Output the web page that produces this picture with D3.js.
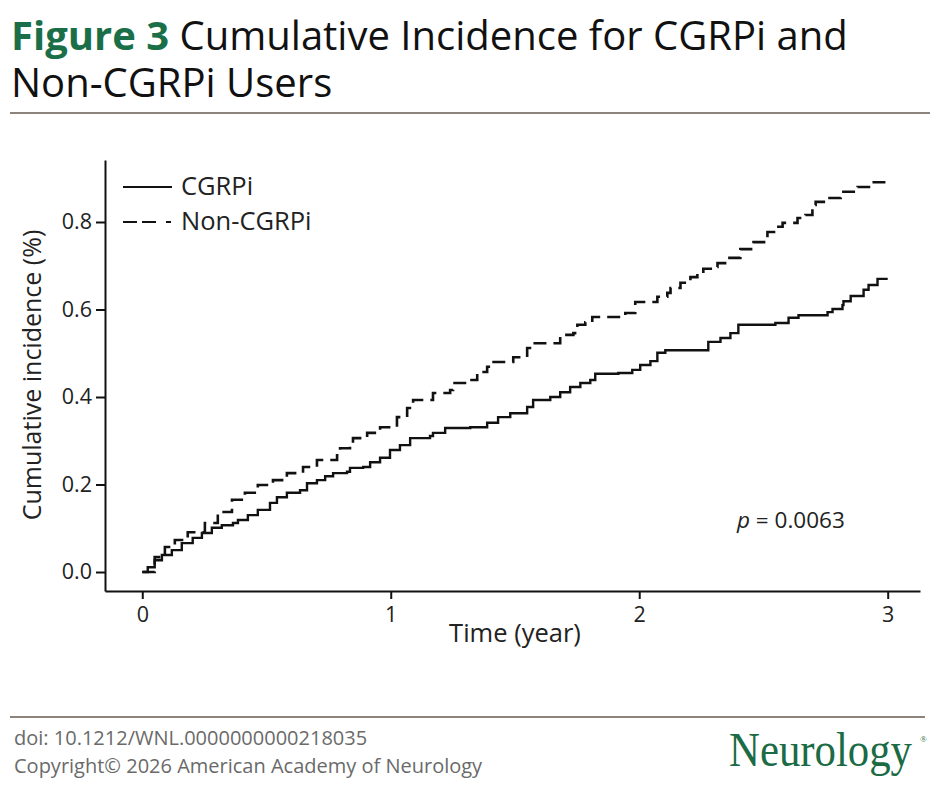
<!DOCTYPE html>
<html>
<head>
<meta charset="utf-8">
<title>Figure 3</title>
<script src="https://cdn.jsdelivr.net/npm/d3@7"></script>
<style>
  body { margin: 0; background: #fff; }
  svg text { font-family: "Open Sans", "Noto Sans", sans-serif; }
</style>
</head>
<body>
<script>
// step points: [time (year), cumulative incidence]
var cgrpi = [
  [0, 0], [0.022, 0.011], [0.050, 0.027], [0.079, 0.039], [0.119, 0.050], [0.159, 0.066],
  [0.203, 0.078], [0.240, 0.089], [0.280, 0.101], [0.320, 0.107], [0.365, 0.112], [0.385, 0.119],
  [0.425, 0.130], [0.465, 0.142], [0.514, 0.158], [0.542, 0.171], [0.582, 0.181], [0.635, 0.187],
  [0.663, 0.203], [0.703, 0.210], [0.736, 0.219], [0.768, 0.226], [0.824, 0.229], [0.836, 0.238],
  [0.889, 0.240], [0.917, 0.251], [0.957, 0.261], [0.997, 0.279], [1.037, 0.290], [1.078, 0.306],
  [1.158, 0.311], [1.170, 0.318], [1.219, 0.329], [1.320, 0.331], [1.388, 0.341], [1.432, 0.354],
  [1.481, 0.363], [1.549, 0.377], [1.573, 0.393], [1.642, 0.400], [1.682, 0.411], [1.722, 0.423],
  [1.763, 0.432], [1.803, 0.439], [1.823, 0.453], [1.916, 0.455], [1.972, 0.462], [2.004, 0.473],
  [2.045, 0.482], [2.073, 0.501], [2.105, 0.507], [2.278, 0.526], [2.327, 0.535], [2.367, 0.546],
  [2.399, 0.565], [2.548, 0.569], [2.601, 0.581], [2.641, 0.587], [2.758, 0.594], [2.778, 0.601],
  [2.818, 0.610], [2.822, 0.619], [2.851, 0.631], [2.903, 0.645], [2.923, 0.656], [2.959, 0.670],
  [3.0, 0.670]
];
var nonCgrpi = [
  [0, 0], [0.050, 0.034], [0.091, 0.057], [0.131, 0.073], [0.183, 0.091], [0.252, 0.112],
  [0.304, 0.137], [0.361, 0.165], [0.413, 0.181], [0.465, 0.199], [0.526, 0.210], [0.582, 0.226],
  [0.647, 0.240], [0.703, 0.256], [0.784, 0.267], [0.796, 0.283], [0.836, 0.290], [0.848, 0.306],
  [0.905, 0.318], [0.957, 0.331], [1.025, 0.354], [1.066, 0.375], [1.090, 0.393], [1.170, 0.409],
  [1.239, 0.416], [1.251, 0.432], [1.307, 0.439], [1.348, 0.457], [1.388, 0.469], [1.408, 0.480],
  [1.493, 0.491], [1.549, 0.512], [1.573, 0.523], [1.682, 0.542], [1.735, 0.546], [1.751, 0.565],
  [1.783, 0.571], [1.811, 0.583], [1.944, 0.592], [1.984, 0.617], [2.073, 0.629], [2.113, 0.638],
  [2.126, 0.649], [2.166, 0.661], [2.206, 0.674], [2.234, 0.683], [2.258, 0.693], [2.299, 0.697],
  [2.315, 0.706], [2.355, 0.718], [2.407, 0.738], [2.460, 0.754], [2.516, 0.777], [2.548, 0.789],
  [2.577, 0.798], [2.637, 0.809], [2.669, 0.816], [2.697, 0.839], [2.710, 0.846], [2.758, 0.855],
  [2.811, 0.869], [2.879, 0.880], [2.944, 0.891], [3.0, 0.891]
];
var xTicks = [0, 1, 2, 3];
var yTicks = [0, 0.2, 0.4, 0.6, 0.8];
var seriesNames = ["CGRPi", "Non-CGRPi"];

var w = 940, h = 788;
var svg = d3.select("body").append("svg").attr("width", w).attr("height", h);

// header
var title = svg.append("text").attr("x", 11).attr("y", 50).attr("font-size", "40px").attr("fill", "#111");
title.append("tspan").attr("font-weight", "bold").attr("fill", "#1b6f48").text("Figure 3");
title.append("tspan").text(" Cumulative Incidence for CGRPi and");
svg.append("text").attr("x", 11).attr("y", 97).attr("font-size", "40px").attr("fill", "#111")
  .text("Non-CGRPi Users");
svg.append("line").attr("x1", 10).attr("x2", 930).attr("y1", 113).attr("y2", 113)
  .attr("stroke", "#8c847c").attr("stroke-width", 2);

// scales
var x = d3.scaleLinear().domain([-0.15, 3.13]).range([105, 920]);
var y = d3.scaleLinear().domain([-0.0434, 0.9417]).range([591, 160]);

var xAxis = d3.axisBottom(x).tickValues(xTicks).tickSizeOuter(0).tickSizeInner(8).tickPadding(8)
  .tickFormat(d3.format("d"));
var yAxis = d3.axisLeft(y).tickValues(yTicks).tickSizeOuter(0).tickSizeInner(9).tickPadding(4)
  .tickFormat(d3.format(".1f"));

var gx = svg.append("g").attr("transform", "translate(0,591)").call(xAxis);
var gy = svg.append("g").attr("transform", "translate(105,0)").call(yAxis);
[gx, gy].forEach(function(g) {
  g.select(".domain").attr("stroke", "#111").attr("stroke-width", 2);
  g.selectAll(".tick line").attr("stroke", "#111").attr("stroke-width", 2);
  g.selectAll(".tick text").attr("font-family", "Open Sans").attr("font-size", "21.5px").attr("fill", "#222");
});

svg.append("text").attr("x", 515).attr("y", 642).attr("text-anchor", "middle")
  .attr("font-size", "25.5px").attr("fill", "#222").text("Time (year)");
svg.append("text").attr("transform", "translate(41,375) rotate(-90)").attr("text-anchor", "middle")
  .attr("font-size", "25px").attr("fill", "#222").text("Cumulative incidence (%)");

// curves
var line = d3.line()
  .x(function(d) { return x(d[0]); })
  .y(function(d) { return y(d[1]); })
  .curve(d3.curveStepAfter);

svg.append("path").datum(nonCgrpi).attr("d", line)
  .attr("fill", "none").attr("stroke", "#111").attr("stroke-width", 2.6)
  .attr("stroke-dasharray", "13,7");
svg.append("path").datum(cgrpi).attr("d", line)
  .attr("fill", "none").attr("stroke", "#111").attr("stroke-width", 2.4);

// legend
var legend = svg.append("g");
legend.append("line").attr("x1", 123).attr("x2", 172).attr("y1", 187).attr("y2", 187)
  .attr("stroke", "#111").attr("stroke-width", 2.2);
legend.append("line").attr("x1", 123).attr("x2", 172).attr("y1", 222).attr("y2", 222)
  .attr("stroke", "#111").attr("stroke-width", 2.2).attr("stroke-dasharray", "14,5,14,10,5");
legend.selectAll("text.lg").data(seriesNames).enter().append("text")
  .attr("class", "lg")
  .attr("x", 181)
  .attr("y", function(d, i) { return 195 + i * 35; })
  .attr("font-size", "25.5px").attr("fill", "#222")
  .text(function(d) { return d; });

var p = svg.append("text").attr("x", 737).attr("y", 528).attr("font-size", "22.5px").attr("fill", "#222");
p.append("tspan").attr("font-style", "italic").text("p");
p.append("tspan").text(" = 0.0063");

// footer
svg.append("line").attr("x1", 10).attr("x2", 925).attr("y1", 717).attr("y2", 717)
  .attr("stroke", "#8c847c").attr("stroke-width", 2);
svg.append("text").attr("x", 14).attr("y", 745).attr("font-size", "20px").attr("fill", "#6a6a6a")
  .text("doi: 10.1212/WNL.0000000000218035");
svg.append("text").attr("x", 14).attr("y", 773).attr("font-size", "20px").attr("fill", "#6a6a6a")
  .text("Copyright\u00a9 2026 American Academy of Neurology");
svg.append("text").attr("x", 729).attr("y", 766)
  .attr("font-size", "48px").attr("fill", "#1b6b45")
  .attr("textLength", 183).attr("lengthAdjust", "spacingAndGlyphs")
  .style("font-family", "'Liberation Serif', serif")
  .text("Neurology");
svg.append("text").attr("x", 920).attr("y", 742)
  .style("font-family", "'Liberation Serif', serif")
  .attr("font-size", "9px").attr("fill", "#1b6b45").text("\u00ae");
</script>
</body>
</html>
